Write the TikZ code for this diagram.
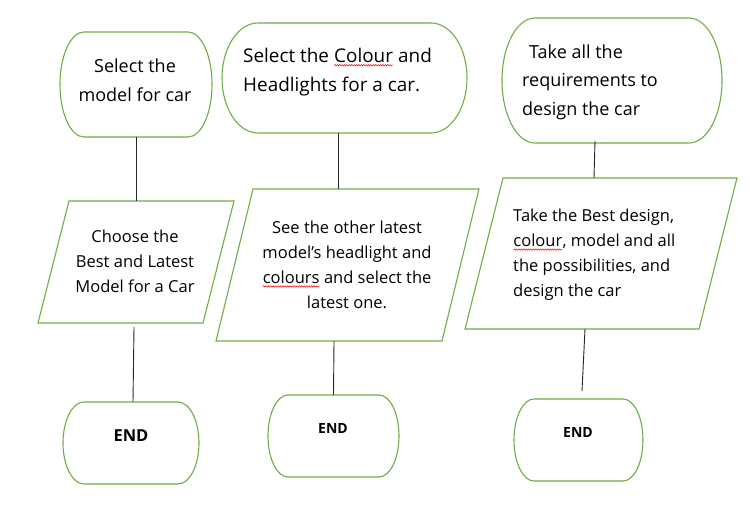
\documentclass[tikz,border=0pt]{standalone}
\usepackage{fontspec}
\setmainfont{Open Sans}
\usetikzlibrary{decorations.pathmorphing}
\definecolor{flowgreen}{HTML}{70AD47}
\tikzset{
  shapeline/.style={draw=flowgreen, line width=1.1pt},
  frame/.style={draw=none, rectangle, inner sep=0pt, outer sep=0pt},
  link/.style={draw=black!85, line width=0.9pt},
  txtB/.style={inner sep=0pt, font=\fontsize{18}{29}\selectfont},
  txtP/.style={inner sep=0pt, font=\fontsize{16.5}{25}\selectfont},
  endtxt/.style={inner sep=0pt},
}
\newcommand\squig[1]{\tikz[baseline=(sq.base)]{\node[inner sep=0pt,outer sep=0pt] (sq) {#1};\draw[red,line width=0.5pt,decorate,decoration={snake,amplitude=0.7pt,segment length=2.4pt}] ([yshift=-2.8pt]sq.base west) -- ([yshift=-2.8pt]sq.base east);}}
\newcommand\termbox[6]{%
  \pgfmathsetmacro\tym{(#3+#5)/2}%
  \pgfmathsetmacro\thh{(#5-#3)/2}%
  \pgfmathsetmacro\tk{0.5523*#6}%
  \pgfmathsetmacro\tkh{0.5523*\thh}%
  \draw[shapeline] ({#2+#6},#3) -- ({#4-#6},#3)
    .. controls ({#4-#6+\tk},#3) and (#4,{\tym-\tkh}) .. (#4,\tym)
    .. controls (#4,{\tym+\tkh}) and ({#4-#6+\tk},#5) .. ({#4-#6},#5)
    -- ({#2+#6},#5)
    .. controls ({#2+#6-\tk},#5) and (#2,{\tym+\tkh}) .. (#2,\tym)
    .. controls (#2,{\tym-\tkh}) and ({#2+#6-\tk},#3) .. ({#2+#6},#3) -- cycle;
  \node[frame, minimum width={(#4-#2)*1pt}, minimum height={(#5-#3)*1pt}] (#1) at ({(#2+#4)/2},\tym) {};
}
\newcommand\parabox[6]{%
  \draw[shapeline] ({#2+#6},#3) -- (#4,#3) -- ({#4-#6},#5) -- (#2,#5) -- cycle;
  \node[frame, minimum width={(#4-#2)*1pt}, minimum height={(#5-#3)*1pt}] (#1) at ({(#2+#4)/2},{(#3+#5)/2}) {};
}
\begin{document}
\begin{tikzpicture}[x=1pt,y=-1pt]
\useasboundingbox[fill=white] (0,0) rectangle (750,526);
% shapes
\termbox{s1}{60}{32}{212}{137}{24}
\termbox{s2}{222}{23}{467}{133}{36}
\termbox{s3}{502}{18}{722}{143}{33}
\parabox{p1}{38}{201}{234}{323}{31}
\parabox{p2}{216}{189}{479}{341}{37}
\parabox{p3}{465}{178}{737}{329}{38}
\termbox{e1}{63}{402}{199}{484}{21}
\termbox{e2}{268}{395}{399}{477}{20}
\termbox{e3}{514}{399}{643}{481}{20}
% texts
\node[txtB, align=center] (t1) at (135,80) {Select the\\model for car};
\node[txtB, align=left, anchor=west, font=\fontsize{18.9}{29}\selectfont] (t2) at (243,72) {Select the \squig{Colour} and\\Headlights for a car.};
\node[txtB, align=left, anchor=west, font=\fontsize{18}{28.5}\selectfont] (t3) at (522,82) {\hspace*{7pt}Take all the\\requirements to\\design the car};
\node[txtP, align=center] (q1) at (135,261) {Choose the\\Best and Latest\\Model for a Car};
\node[txtP, align=center] (q2) at (347,265) {See the other latest\\model’s headlight and\\\squig{colours} and select the\\latest one.};
\node[txtP, align=left, anchor=west] (q3) at (513,255) {Take the Best design,\\\squig{colour}, model and all\\the possibilities, and\\design the car};
\node[endtxt, font=\bfseries\fontsize{16.5}{20}\selectfont] (n1) at (131,436) {END};
\node[endtxt, font=\bfseries\fontsize{14}{18}\selectfont] (n2) at (333,429) {END};
\node[endtxt, font=\bfseries\fontsize{14}{18}\selectfont] (n3) at (578,433) {END};
% connectors
\coordinate (c6end) at (582,391);
\draw[link] (s1.south) -- (p1.north);
\draw[link] ([xshift=-6.5pt]s2.south) -- ([xshift=-9.5pt]p2.north);
\draw[link] ([xshift=-17pt,yshift=2pt]s3.south) -- ([xshift=-7pt]p3.north);
\draw[link] ([xshift=-2pt,yshift=-4pt]p1.south) -- ([xshift=2pt]e1.north);
\draw[link] ([xshift=-13.5pt]p2.south) -- (e2.north);
\draw[link] ([xshift=-16pt]p3.south) -- (c6end);
\end{tikzpicture}
\end{document}
